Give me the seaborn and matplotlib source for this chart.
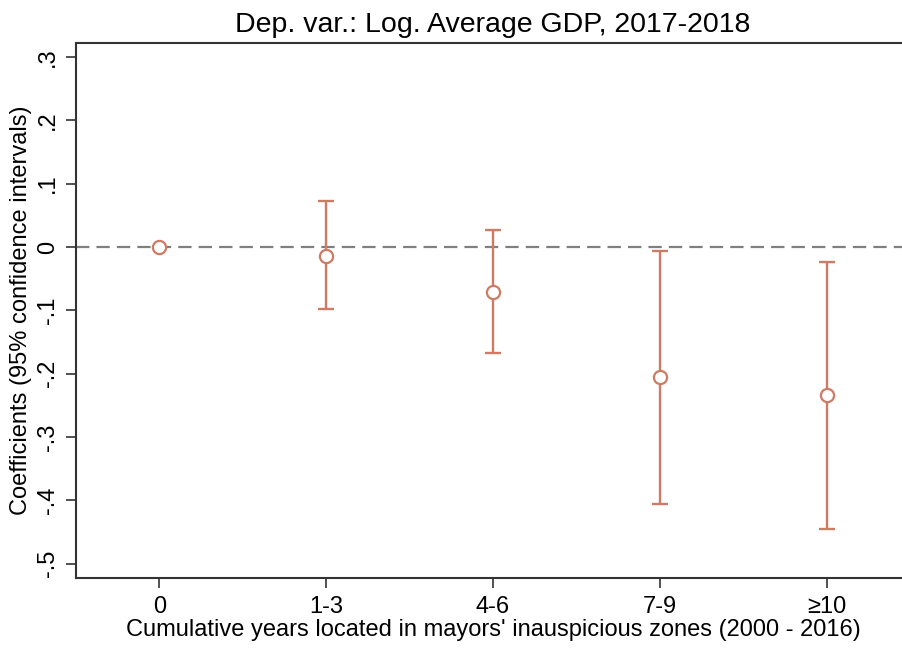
import numpy as np
import pandas as pd
import matplotlib
matplotlib.use("Agg")
import matplotlib.pyplot as plt
import seaborn as sns

categories = ["0", "1-3", "4-6", "7-9", "≥10"]
coef = [0.0, -0.014, -0.071, -0.205, -0.234]
ci_low = [np.nan, -0.098, -0.167, -0.406, -0.446]
ci_high = [np.nan, 0.072, 0.027, -0.006, -0.023]
yticks = [0.3, 0.2, 0.1, 0.0, -0.1, -0.2, -0.3, -0.4, -0.5]
ytick_labels = [".3", ".2", ".1", "0", "-.1", "-.2", "-.3", "-.4", "-.5"]

sns.set_theme(style="white")
plt.rcParams['font.family'] = ['Liberation Sans', 'DejaVu Sans']
plt.rcParams['text.color'] = 'black'
plt.rcParams['axes.labelcolor'] = 'black'

color = "#D07A64"
df = pd.DataFrame({"pos": np.arange(len(categories)), "coef": coef,
                   "lo": ci_low, "hi": ci_high})

fig = plt.figure(figsize=(9.03, 6.5), dpi=100)
ax = fig.add_axes([76/903, 72/650, 834/903, 535/650])

ax.axhline(0, color="#808080", lw=1.6, ls=(0, (6, 3.2)), zorder=1)

ci = df.dropna()
ax.errorbar(ci["pos"], ci["coef"],
            yerr=[ci["coef"] - ci["lo"], ci["hi"] - ci["coef"]],
            fmt="none", ecolor=color, elinewidth=1.7, capsize=6, capthick=1.7, zorder=2)

sns.scatterplot(data=df, x="pos", y="coef", ax=ax, s=90, marker="o",
                facecolors="white", edgecolor=color, linewidth=1.6, zorder=3)

ax.set_xlim(-0.5, 4.5)
ax.set_ylim(-0.5227, 0.3221)
ax.set_xticks(np.arange(len(categories)))
ax.set_xticklabels(categories, fontsize=17)
ax.set_yticks(yticks)
ax.set_yticklabels(ytick_labels, fontsize=17, rotation=90, va="center")

for side in ["left", "bottom", "top"]:
    ax.spines[side].set_visible(True)
    ax.spines[side].set_color("#333333")
    ax.spines[side].set_linewidth(1.5)
ax.spines["right"].set_visible(False)

ax.tick_params(axis="both", which="major", direction="out", length=7, width=1.2,
               color="#333333", labelcolor="black", bottom=True, left=True)
ax.tick_params(axis="y", pad=5)
ax.tick_params(axis="x", pad=6)

ax.set_xlabel("Cumulative years located in mayors' inauspicious zones (2000 - 2016)",
              fontsize=17, labelpad=1, color="black")
ax.set_ylabel("Coefficients (95% confidence intervals)", fontsize=17, labelpad=4,
              color="black")
ax.set_title("Dep. var.: Log. Average GDP, 2017-2018", fontsize=20.5, pad=8,
             color="black")

fig.savefig("out.png", dpi=100)
